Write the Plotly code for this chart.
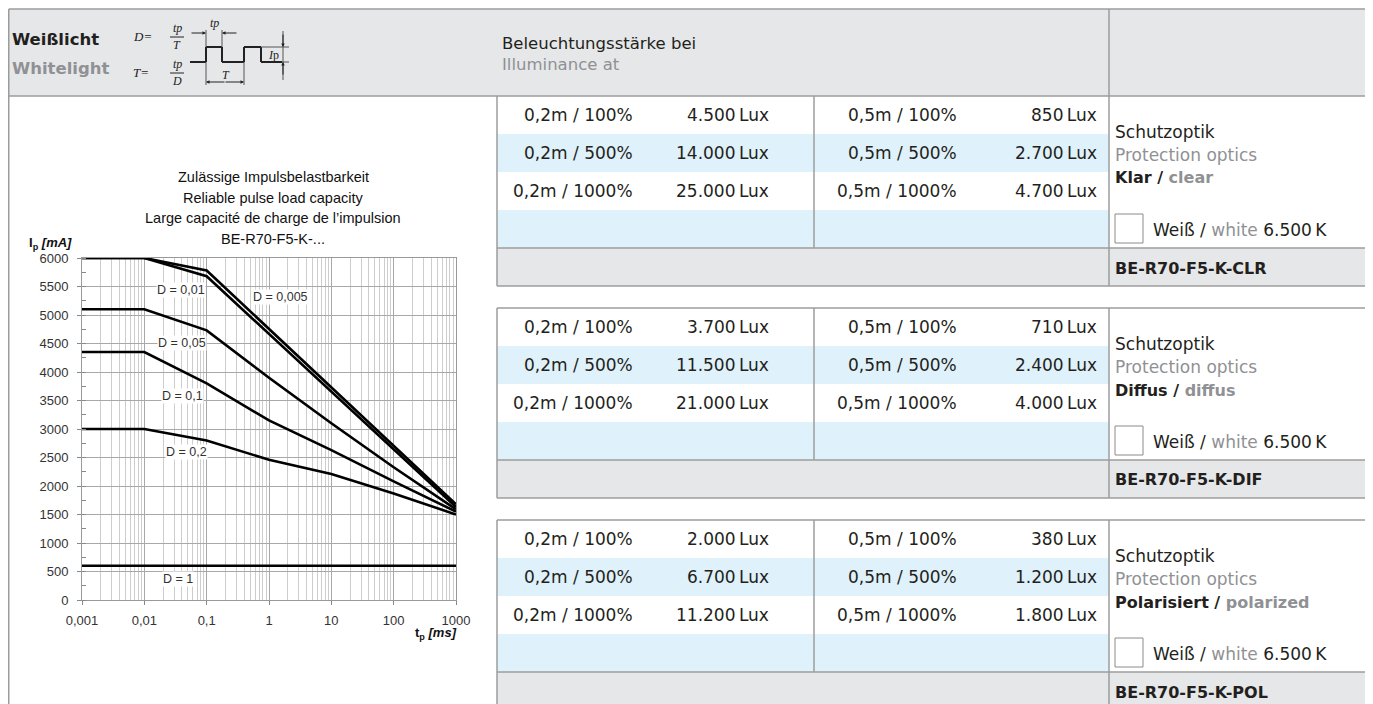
import plotly.graph_objects as go

# the page body keeps its default 8px margin, so the figure is placed 8px in
OFF = 8
W, H = 1373 - OFF, 704 - OFF

# pulse load curves (t_p in ms, I_p in mA)
tp_ms = [0.001, 0.01, 0.1, 1, 10, 100, 1000]
ip_d0005 = [6000, 6000, 5780, 4755, 3730, 2705, 1680]
ip_d001 = [6000, 6000, 5680, 4670, 3660, 2650, 1630]
ip_d005 = [5100, 5100, 4730, 3900, 3100, 2330, 1590]
ip_d01 = [4350, 4350, 3800, 3150, 2630, 2080, 1550]
ip_d02 = [3000, 3000, 2800, 2460, 2210, 1870, 1500]
ip_d1 = [600, 600, 600, 600, 600, 600, 600]

x_tick_vals = [0.001, 0.01, 0.1, 1, 10, 100, 1000]
x_tick_text = ["0,001", "0,01", "0,1", "1", "10", "100", "1000"]

chart_title = [
    "Zulässige Impulsbelastbarkeit",
    "Reliable pulse load capacity",
    "Large capacité de charge de l’impulsion",
    "BE-R70-F5-K-...",
]

# illuminance tables
distance_02 = ["0,2m / 100%", "0,2m / 500%", "0,2m / 1000%"]
distance_05 = ["0,5m / 100%", "0,5m / 500%", "0,5m / 1000%"]
lux_02 = [[4500, 14000, 25000], [3700, 11500, 21000], [2000, 6700, 11200]]
lux_05 = [[850, 2700, 4700], [710, 2400, 4000], [380, 1200, 1800]]
optics_de = ["Klar", "Diffus", "Polarisiert"]
optics_en = ["clear", "diffus", "polarized"]
models = ["BE-R70-F5-K-CLR", "BE-R70-F5-K-DIF", "BE-R70-F5-K-POL"]

DARK = "#231f20"
GREY_TXT = "#8f9194"
BAND = "#e6e7e8"
BLUE = "#dff1fa"
RULE = "#9c9c9c"
FONT = "DejaVu Sans"
CHART_FONT = "Liberation Sans"
LEFT = 8.75  # outer left edge (the reference's x=5 lies outside the figure)


def px(x):
    return (x - OFF) / W


def py(y):
    return 1 - (y - OFF) / H


shapes = []
annotations = []


def rect(x0, y0, x1, y1, fill):
    shapes.append(dict(type="rect", xref="paper", yref="paper",
                       x0=px(x0), y0=py(y1), x1=px(x1), y1=py(y0),
                       fillcolor=fill, line=dict(width=0), layer="below"))


def line(x0, y0, x1, y1, color=RULE, width=1.5):
    shapes.append(dict(type="line", xref="paper", yref="paper",
                       x0=px(x0), y0=py(y0), x1=px(x1), y1=py(y1),
                       line=dict(color=color, width=width)))


def text(x, y, s, size=17, color=DARK, anchor="left", family=FONT):
    annotations.append(dict(xref="paper", yref="paper", x=px(x), y=py(y),
                            text=s, showarrow=False, xanchor=anchor,
                            yanchor="middle", font=dict(size=size, color=color, family=family)))


def arrow(x, y, dx, dy):
    annotations.append(dict(xref="paper", yref="paper", x=px(x), y=py(y),
                            ax=dx, ay=dy, text="", showarrow=True,
                            arrowhead=2, arrowsize=0.7, arrowwidth=1, arrowcolor="#222"))


def lux(v):
    return f"{v:,}".replace(",", ".") + "\u2009Lux"


# header band
rect(LEFT, 9, 1366, 96, BAND)
text(10, 40, "<b>Weißlicht</b>", 16.5)
text(10, 68, "<b>Whitelight</b>", 16.5, GREY_TXT)
text(500, 43, "Beleuchtungsstärke bei", 16.5)
text(500, 65, "Illuminance at", 16.5, GREY_TXT)

# duty cycle formulas
serif = "Liberation Serif"
text(131, 36, "<i>D=</i>", 13, "#222", family=serif)
text(177, 28, "<i>tp</i>", 12, "#222", "center", serif)
line(170, 37, 184, 37, "#222", 1)
text(177, 45, "<i>T</i>", 12, "#222", "center", serif)
text(131, 72, "<i>T=</i>", 13, "#222", family=serif)
text(177, 64, "<i>tp</i>", 12, "#222", "center", serif)
line(170, 73, 184, 73, "#222", 1)
text(177, 81, "<i>D</i>", 12, "#222", "center", serif)

# pulse sketch
pulse = [(190, 62), (206, 62), (206, 47), (222, 47), (222, 62), (244, 62),
         (244, 47), (261, 47), (261, 62), (282, 62)]
for (xa, ya), (xb, yb) in zip(pulse[:-1], pulse[1:]):
    line(xa, ya, xb, yb, "#222", 2)
line(206, 30, 206, 47, "#555", 1)
line(222, 30, 222, 47, "#555", 1)
line(206, 62, 206, 85, "#555", 1)
line(244, 62, 244, 85, "#555", 1)
line(261, 47, 289, 47, "#555", 1)
line(282, 62, 289, 62, "#555", 1)
line(283, 31, 283, 80, "#555", 1)
arrow(206, 33, -16, 0)
arrow(222, 33, 16, 0)
arrow(206, 82, 20, 0)
arrow(244, 82, -20, 0)
arrow(283, 47, 0, -14)
arrow(283, 62, 0, 14)
text(215, 23, "<i>tp</i>", 12, "#222", "center", serif)
text(226, 75, "<i>T</i>", 12, "#222", "center", serif)
text(273, 55, "<i>I</i>p", 12, "#222", "center", serif)

# tables
for t, top in enumerate([96, 308, 520]):
    for r in range(4):
        y0 = top + 38 * r
        rect(497, y0, 1109, y0 + 38, "white" if r % 2 == 0 else BLUE)
    rect(1109, top, 1366, top + 152, "white")
    rect(497, top + 152, 1366, top + 190, BAND)
    line(497, top, 1366, top)
    line(497, top + 152, 1366, top + 152)
    line(497, top + 190, 1366, top + 190)
    line(497, top, 497, top + 190)
    line(814, top, 814, top + 152)
    line(1109, top, 1109, top + 190)
    for r in range(3):
        yc = top + 19 + 38 * r
        text(635, yc, distance_02[r], 17, anchor="right")
        text(771, yc, lux(lux_02[t][r]), 17, anchor="right")
        text(959, yc, distance_05[r], 17, anchor="right")
        text(1099, yc, lux(lux_05[t][r]), 17, anchor="right")
    text(1113, top + 36, "Schutzoptik", 17)
    text(1113, top + 59, "Protection optics", 17, GREY_TXT)
    text(1113, top + 82, f"<b>{optics_de[t]} / <span style='color:{GREY_TXT}'>{optics_en[t]}</span></b>", 16)
    shapes.append(dict(type="rect", xref="paper", yref="paper",
                       x0=px(1115), x1=px(1143), y0=py(top + 147), y1=py(top + 118),
                       fillcolor="white", line=dict(color="#8a8a8a", width=1)))
    text(1151, top + 134, f"Weiß / <span style='color:{GREY_TXT}'>white</span> 6.500\u2009K", 17)
    text(1113, top + 172, f"<b>{models[t]}</b>", 16)

# outer frame
line(LEFT, 9, 1366, 9)
line(LEFT, 9, LEFT, 704)
line(1366, 9, 1366, 704)
line(LEFT, 96, 497, 96)
line(1109, 9, 1109, 96)

# pulse load chart
fig = go.Figure()
series = [ip_d0005, ip_d001, ip_d005, ip_d01, ip_d02, ip_d1]
for ys in series:
    fig.add_trace(go.Scatter(x=tp_ms, y=ys, mode="lines",
                             line=dict(color="black", width=2.6),
                             hoverinfo="skip", showlegend=False))

for i, s in enumerate(chart_title):
    text(273, 177 + 20.5 * i, s, 14.5, "#111", "center", CHART_FONT)
text(27, 243, "<b>I<sub>p</sub> <i>[mA]</i></b>", 13, "#111", family=CHART_FONT)
text(459, 633, "<b>t<sub>p</sub> <i>[ms]</i></b>", 13, "#111", "right", CHART_FONT)

curve_labels = [("D = 0,01", 181, 290), ("D = 0,005", 280, 297), ("D = 0,05", 182, 343),
                ("D = 0,1", 183, 396), ("D = 0,2", 186, 452), ("D = 1", 178, 579)]
for s, xl, yl in curve_labels:
    annotations.append(dict(xref="paper", yref="paper", x=px(xl), y=py(yl), text=s,
                            showarrow=False, xanchor="center", yanchor="middle",
                            bgcolor="white", borderpad=0,
                            font=dict(size=12.5, color="#333", family=CHART_FONT)))

fig.update_layout(
    width=W, height=H, autosize=False,
    margin=dict(l=0, r=0, t=0, b=0, pad=0, autoexpand=False),
    paper_bgcolor="white", plot_bgcolor="white",
    font=dict(family=CHART_FONT, size=13, color="#222"),
    shapes=shapes, annotations=annotations,
    xaxis=dict(type="log", range=[-3, 3], domain=[px(82), px(456)],
               tickvals=x_tick_vals, ticktext=x_tick_text, automargin=False,
               showgrid=True, gridcolor="#a8a8a8", gridwidth=1,
               minor=dict(dtick="D1", showgrid=True, gridcolor="#cdcdcd", ticks=""),
               ticks="outside", ticklen=4, tickcolor="#888",
               showline=True, linecolor="#999", mirror=True,
               zeroline=False, ticklabelstandoff=4,
               tickfont=dict(size=13, color="#333")),
    yaxis=dict(range=[0, 6000], domain=[py(600), py(258)], dtick=500, automargin=False,
               showgrid=True, gridcolor="#a8a8a8", gridwidth=1,
               minor=dict(dtick=250, ticks="inside", ticklen=4, tickcolor="#888", showgrid=False),
               ticks="outside", ticklen=4, tickcolor="#888",
               showline=True, linecolor="#999", mirror=True,
               zeroline=False, ticklabelstandoff=6,
               tickfont=dict(size=13, color="#333")),
)

fig.write_html("out.html")
